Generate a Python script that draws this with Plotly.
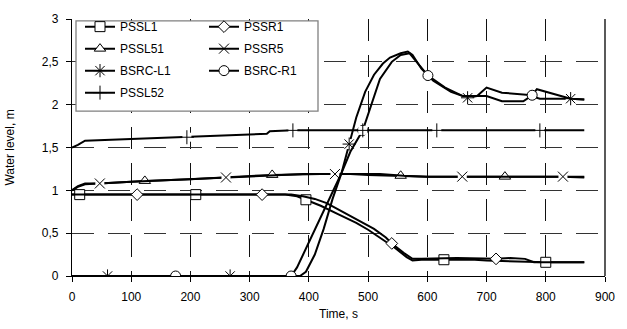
import plotly.graph_objects as go

# ---------------- data ----------------
t_pssl1 = [0, 13, 209, 360, 380, 395, 420, 450, 480, 500, 520, 545, 565, 575, 590, 628, 680, 700, 750, 800, 865]
v_pssl1 = [0.95, 0.95, 0.95, 0.95, 0.93, 0.89, 0.82, 0.72, 0.62, 0.54, 0.45, 0.33, 0.22, 0.18, 0.19, 0.19, 0.19, 0.18, 0.17, 0.16, 0.16]
m_pssl1 = [13, 209, 395, 628, 800]

t_pssr1 = [0, 110, 321, 370, 390, 410, 430, 460, 490, 510, 530, 540, 560, 575, 590, 650, 716, 740, 765, 780, 865]
v_pssr1 = [0.95, 0.95, 0.95, 0.95, 0.93, 0.90, 0.85, 0.74, 0.63, 0.55, 0.45, 0.38, 0.27, 0.20, 0.20, 0.21, 0.20, 0.21, 0.20, 0.16, 0.16]
m_pssr1 = [110, 321, 540, 716]

t_pssl51 = [0, 10, 22, 47, 100, 123, 200, 260, 338, 420, 470, 500, 555, 600, 731, 865]
v_pssl51 = [1.00, 1.04, 1.07, 1.08, 1.10, 1.11, 1.13, 1.15, 1.18, 1.19, 1.19, 1.18, 1.17, 1.16, 1.16, 1.16]
m_pssl51 = [123, 338, 555, 731]

t_pssr5 = [0, 10, 22, 47, 100, 200, 260, 340, 390, 444, 520, 560, 600, 659, 829, 865]
v_pssr5 = [1.00, 1.05, 1.08, 1.08, 1.10, 1.13, 1.15, 1.17, 1.19, 1.19, 1.19, 1.17, 1.16, 1.16, 1.16, 1.15]
m_pssr5 = [47, 260, 444, 659, 829]

t_bsrcl1 = [0, 60, 267, 385, 395, 410, 425, 440, 455, 468, 480, 495, 510, 525, 537, 555, 567, 575, 590, 610, 640, 668, 684, 700, 726, 762, 775, 790, 829, 842, 865]
v_bsrcl1 = [0, 0, 0, 0, 0.05, 0.25, 0.55, 0.90, 1.20, 1.54, 1.85, 2.15, 2.35, 2.48, 2.55, 2.60, 2.62, 2.58, 2.42, 2.28, 2.15, 2.08, 2.10, 2.10, 2.04, 2.04, 2.10, 2.07, 2.07, 2.07, 2.06]
m_bsrcl1 = [60, 267, 468, 668, 842]

t_bsrcr1 = [0, 175, 370, 380, 400, 420, 440, 455, 470, 491, 505, 520, 540, 555, 570, 580, 601, 630, 660, 684, 700, 726, 762, 777, 785, 829, 842, 865]
v_bsrcr1 = [0, 0, 0, 0.10, 0.40, 0.70, 0.98, 1.20, 1.45, 1.70, 2.00, 2.30, 2.50, 2.58, 2.60, 2.52, 2.34, 2.20, 2.10, 2.10, 2.20, 2.14, 2.12, 2.11, 2.18, 2.09, 2.07, 2.06]
m_bsrcr1 = [175, 370, 491, 601, 777]

t_pssl52 = [0, 10, 22, 100, 194, 250, 329, 334, 373, 491, 616, 790, 865]
v_pssl52 = [1.50, 1.53, 1.58, 1.60, 1.62, 1.64, 1.66, 1.69, 1.70, 1.70, 1.70, 1.70, 1.70]
m_pssl52 = [194, 373, 491, 616, 790]

x_ticks = [0, 100, 200, 300, 400, 500, 600, 700, 800, 900]
y_ticks = [0, 0.5, 1, 1.5, 2, 2.5, 3]
y_tick_text = ["0", "0,5", "1", "1,5", "2", "2,5", "3"]

FONT = "Liberation Sans, Arial, sans-serif"
FS = 12

series = [
    ("PSSL1", t_pssl1, v_pssl1, m_pssl1, "square", 10, False, "legend"),
    ("PSSR1", t_pssr1, v_pssr1, m_pssr1, "diamond", 9, False, "legend2"),
    ("PSSL51", t_pssl51, v_pssl51, m_pssl51, "triangle-up", 10, False, "legend"),
    ("PSSR5", t_pssr5, v_pssr5, m_pssr5, "x-thin-open", 10, True, "legend2"),
    ("BSRC-L1", t_bsrcl1, v_bsrcl1, m_bsrcl1, "asterisk-open", 11, True, "legend"),
    ("BSRC-R1", t_bsrcr1, v_bsrcr1, m_bsrcr1, "circle", 10, False, "legend2"),
    ("PSSL52", t_pssl52, v_pssl52, m_pssl52, "cross-thin-open", 10, True, "legend"),
]

fig = go.Figure()
for name, t, v, mk, sym, sz, open_sym, leg in series:
    mx = [t[t.index(m)] for m in mk]
    my = [v[t.index(m)] for m in mk]
    fill = "black" if open_sym else "white"
    mstyle = dict(symbol=sym, size=sz, color=fill, line=dict(color="black", width=1))
    fig.add_trace(go.Scatter(x=t, y=v, mode="lines", name=name,
                             line=dict(color="black", width=2),
                             showlegend=False, hoverinfo="skip"))
    if open_sym:
        # white patch behind the open symbol gives the line a small gap, as in the source
        fig.add_trace(go.Scatter(x=mx, y=my, mode="markers", showlegend=False,
                                 marker=dict(symbol="square", size=sz - 1, color="white"),
                                 hoverinfo="skip"))
    fig.add_trace(go.Scatter(x=mx, y=my, mode="markers", showlegend=False, marker=mstyle))
    # legend entry
    fig.add_trace(go.Scatter(x=[None], y=[None], mode="lines+markers", name=name,
                             line=dict(color="black", width=2), marker=mstyle,
                             legendgroup=name, legend=leg))

W, H = 627, 329
ml, mr, mt, mb = 72, 22, 14, 53

def px_x(p):
    return (p - ml) / (W - ml - mr)

def px_y(p):
    return (H - mb - p) / (H - mt - mb)

fig.add_shape(type="rect", xref="paper", yref="paper",
              x0=px_x(76), x1=px_x(318), y0=px_y(108), y1=px_y(16),
              line=dict(color="#808080", width=1.3), fillcolor="white", layer="above")
fig.add_shape(type="line", xref="paper", yref="paper", x0=1, x1=1, y0=0, y1=1,
              line=dict(color="black", width=1.3), layer="above")

legend_common = dict(bgcolor="rgba(0,0,0,0)", borderwidth=0,
                     font=dict(family=FONT, size=FS, color="black"),
                     tracegroupgap=3, yanchor="top", xanchor="left",
                     itemwidth=30)

fig.update_layout(
    width=W, height=H,
    margin=dict(l=ml, r=mr, t=mt, b=mb),
    paper_bgcolor="white", plot_bgcolor="white",
    font=dict(family=FONT, size=FS, color="black"),
    legend=dict(x=px_x(80), y=px_y(7), **legend_common),
    legend2=dict(x=px_x(204), y=px_y(7), **legend_common),
    xaxis=dict(range=[0, 900], tickvals=x_ticks, ticks="outside", ticklen=5,
               tickcolor="black", showline=True, linecolor="black", linewidth=1.3,
               showgrid=True, gridcolor="#111111", gridwidth=1, griddash="22px,14px",
               zeroline=False, ticklabelstandoff=4, automargin=False,
               title=dict(text="Time, s", font=dict(family=FONT, size=FS), standoff=7),
               tickfont=dict(family=FONT, size=FS)),
    yaxis=dict(range=[0, 3], tickvals=y_ticks, ticktext=y_tick_text, ticks="outside",
               ticklen=5, tickcolor="black", showline=True, linecolor="black",
               linewidth=1.3, showgrid=True, gridcolor="#333333", gridwidth=1,
               griddash="22px,14px", zeroline=False, ticklabelstandoff=5, automargin=False,
               title=dict(text="Water level, m", font=dict(family=FONT, size=FS), standoff=24),
               tickfont=dict(family=FONT, size=FS)),
)

fig.write_html("out.html")
